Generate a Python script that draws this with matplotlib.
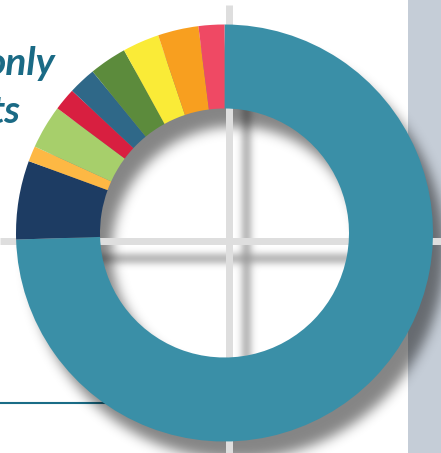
import numpy as np
import matplotlib
matplotlib.use("Agg")
import matplotlib.pyplot as plt
from matplotlib.patches import Rectangle

# ---- data ----
categories = ["Other", "Cat A", "Cat B", "Cat C", "Cat D", "Cat E", "Cat F", "Cat G", "Cat H", "Cat I"]
values = [74.5, 6.1, 1.2, 3.4, 1.75, 2.15, 2.9, 2.85, 3.15, 2.0]
colors = ["#3A8FA7", "#1D3C63", "#FDB844", "#A7CF6B", "#D81F40",
          "#2F6888", "#5C8B3C", "#FAEB37", "#F89F1F", "#EF4964"]
text_lines = ["only", "ts"]

W, H = 441, 453
fig = plt.figure(figsize=(W / 100, H / 100), dpi=100)
ax = fig.add_axes([0, 0, 1, 1])
ax.set_axis_off()

# geometry (pixel space, y down)
cx, cy = 224.5, 233.0
R_out, R_in = 208.5, 124.5

def Y(y):
    return H - y

# background panel
ax.add_patch(Rectangle((408, 0), W - 408, H, color="#C5CDD7", zorder=0, lw=0))

# bottom-left rule
ax.plot([0, 120], [Y(403), Y(403)], color="#1A6C86", lw=1.5, zorder=1,
        solid_capstyle="butt")

# blur helper
def blur(a, s):
    r = int(3 * s)
    k = np.exp(-0.5 * (np.arange(-r, r + 1) / s) ** 2)
    k /= k.sum()
    a = np.apply_along_axis(lambda m: np.convolve(m, k, mode="same"), 0, a)
    a = np.apply_along_axis(lambda m: np.convolve(m, k, mode="same"), 1, a)
    return a

pad = 40
yy, xx = np.mgrid[-pad:H + pad, -pad:W + pad] + 0.5

# donut shadow
sdx, sdy = 12, 18
d = np.hypot(xx - (cx + sdx), yy - (cy + sdy))
ring = ((d <= R_out) & (d >= R_in)).astype(float)
ring = blur(ring, 6.0)[pad:-pad, pad:-pad]
img = np.zeros((H, W, 4))
img[..., 3] = ring * 0.48
ax.imshow(img, extent=(0, W, 0, H), origin="upper", zorder=2, interpolation="bilinear")

# grid line shadows (visible inside the hole only)
gx, gy, gw = 228.5, 240.5, 7
goff = 18
gm = ((np.abs(xx - (gx + goff)) <= gw / 2) & (yy >= 5 + goff)) | (np.abs(yy - (gy + goff)) <= gw / 2)
gm = blur(gm.astype(float), 4.0)
d0 = np.hypot(xx - cx, yy - cy)
gm = (gm * (d0 <= R_in + 3))[pad:-pad, pad:-pad]
img2 = np.zeros((H, W, 4))
img2[..., 3] = gm * 0.42
ax.imshow(img2, extent=(0, W, 0, H), origin="upper", zorder=2.5, interpolation="bilinear")

# grid lines
lw_pt = gw * 0.72
ax.plot([gx, gx], [Y(5), Y(H)], color="#DEDEDE", lw=lw_pt, zorder=3, solid_capstyle="butt")
ax.plot([0, W], [Y(gy), Y(gy)], color="#DEDEDE", lw=lw_pt, zorder=3, solid_capstyle="butt")

# donut
wedges, _ = ax.pie(values, colors=colors, startangle=90, counterclock=False,
                   radius=R_out, center=(cx, Y(cy)),
                   wedgeprops=dict(width=R_out - R_in, linewidth=0))
for w in wedges:
    w.set_zorder(4)

# text fragments
tc = "#1A6A85"
ax.text(55, Y(75), text_lines[0], ha="right", va="baseline", fontsize=28,
        family="Lato", style="italic", weight="bold", color=tc, zorder=5)
ax.text(21, Y(123), text_lines[1], ha="right", va="baseline", fontsize=28,
        family="Lato", style="italic", weight="bold", color=tc, zorder=5)

ax.set_xlim(0, W)
ax.set_ylim(0, H)
ax.set_aspect("auto")
fig.savefig("out.png", dpi=100, facecolor="white")
